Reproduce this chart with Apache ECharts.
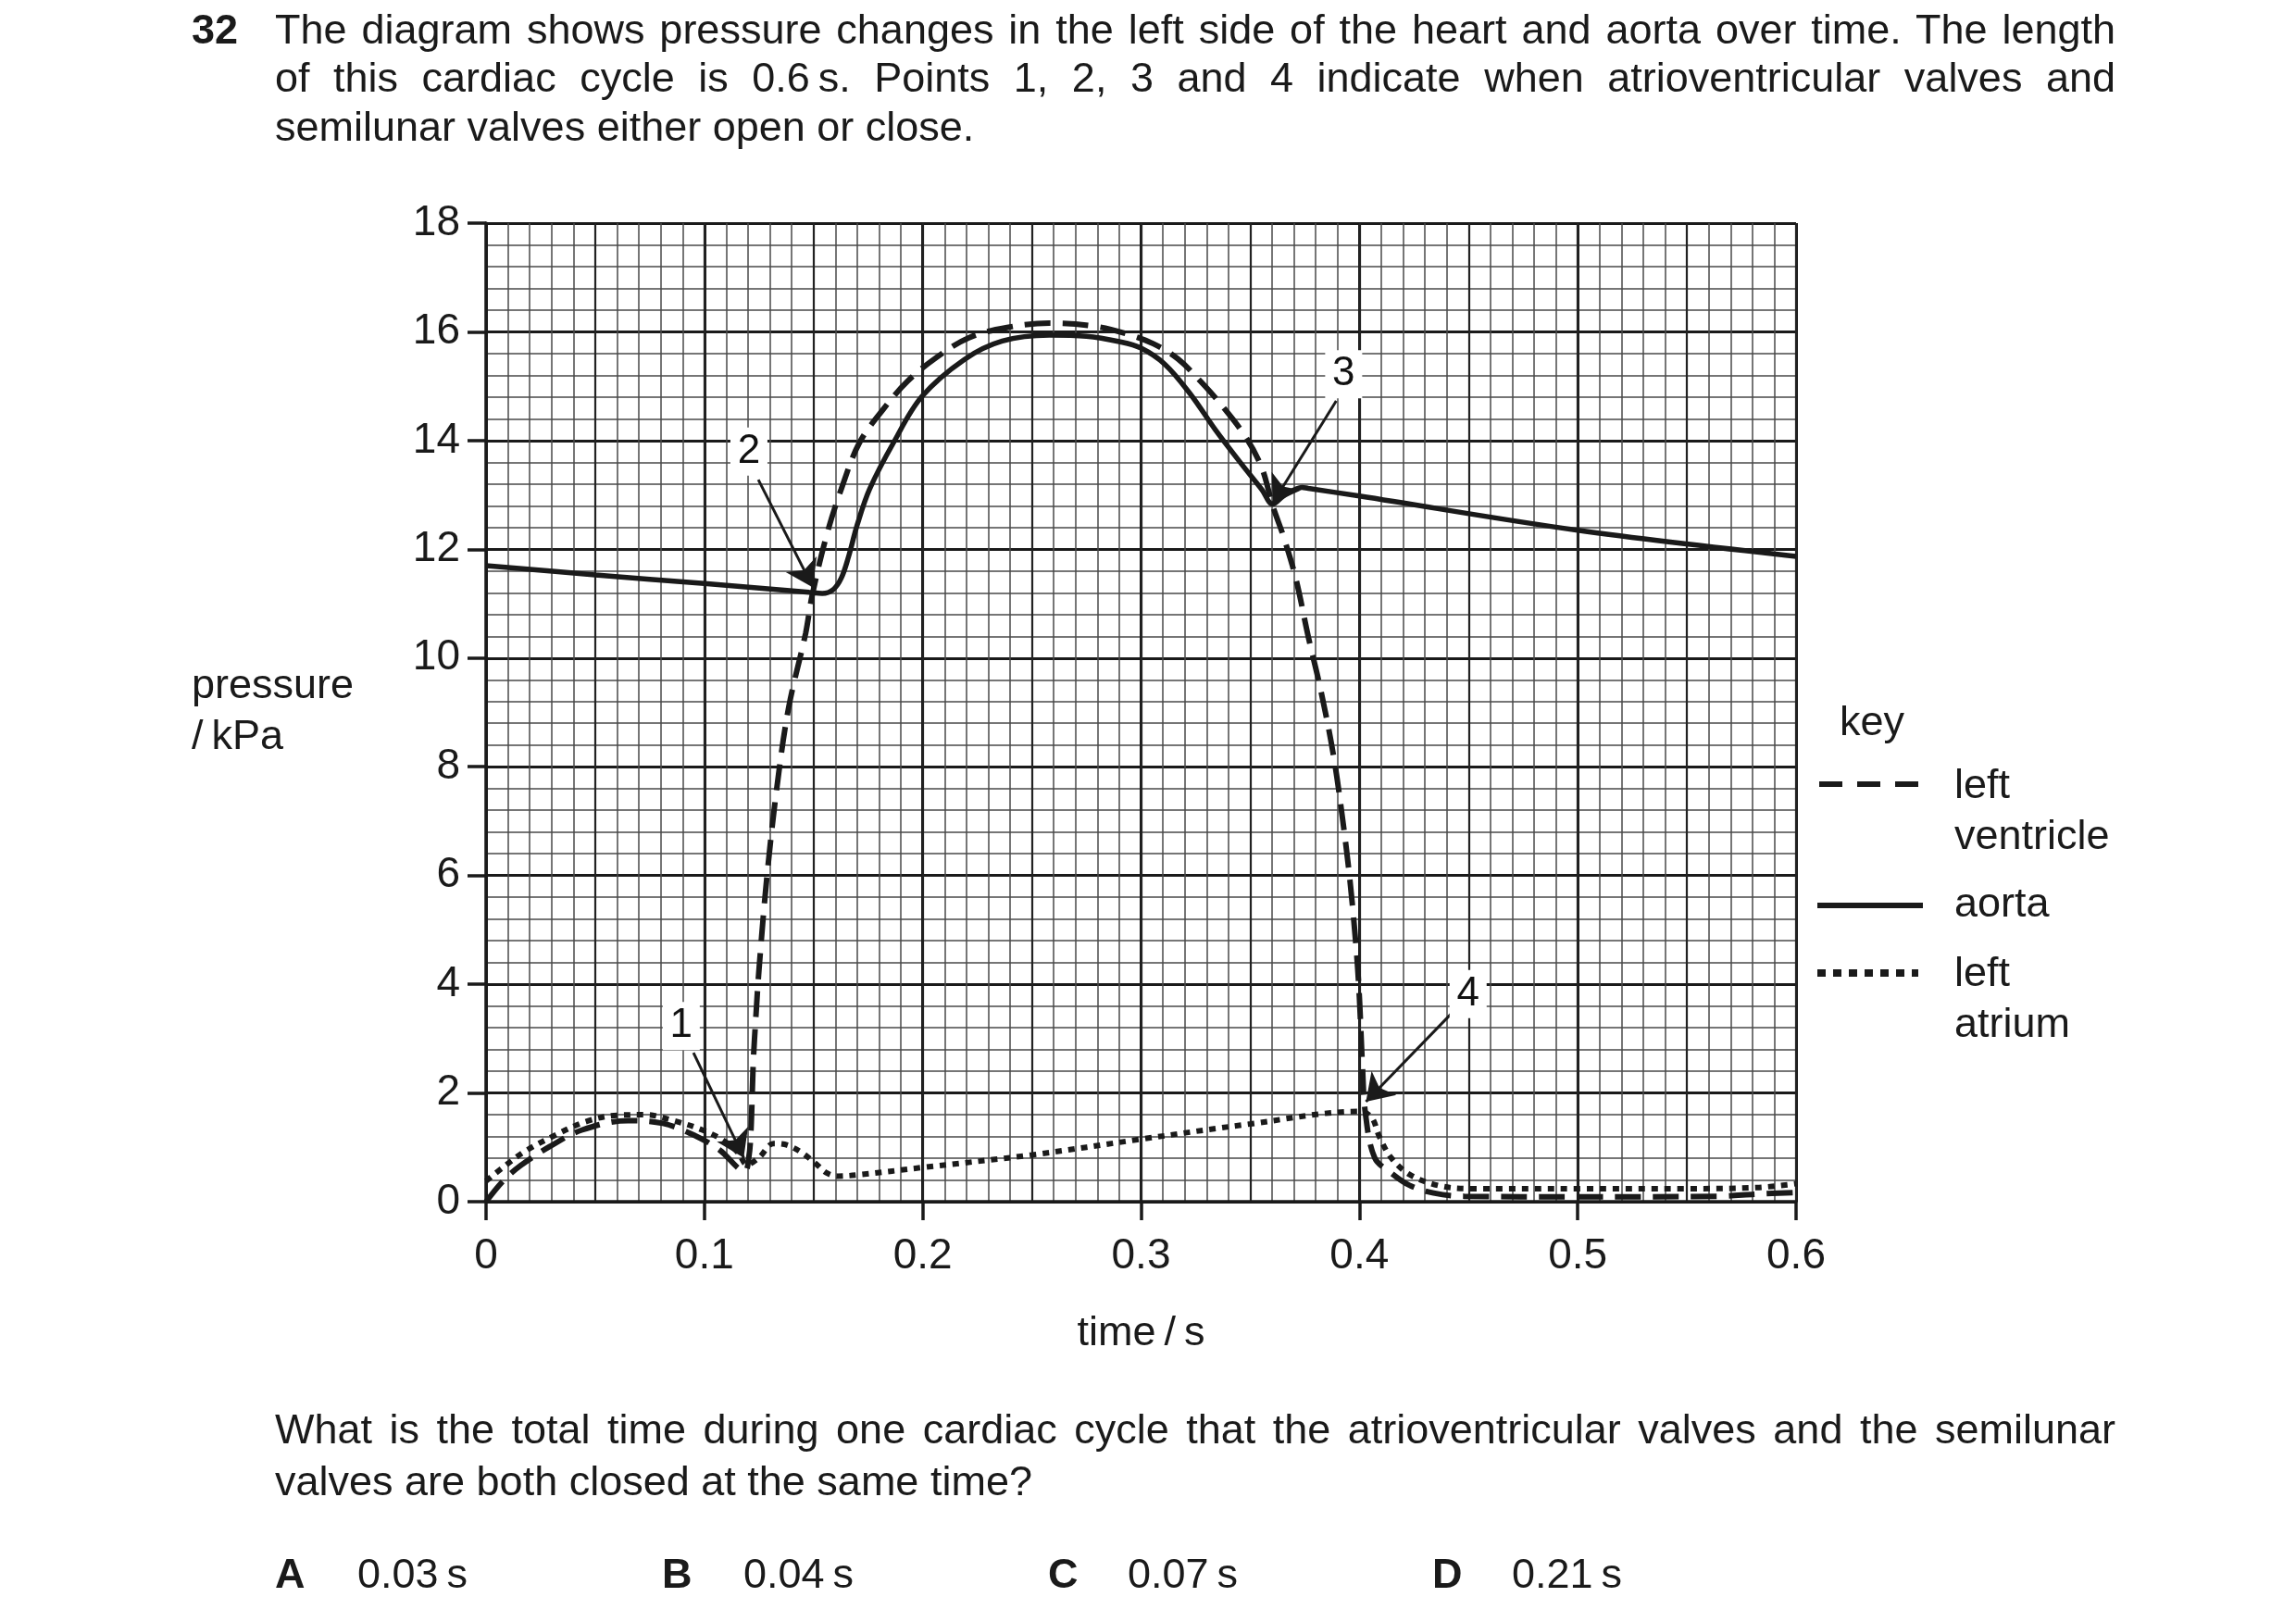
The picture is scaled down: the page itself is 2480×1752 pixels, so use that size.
<!DOCTYPE html>
<html>
<head>
<meta charset="utf-8">
<script src="https://cdn.jsdelivr.net/npm/echarts@6/dist/echarts.min.js"></script>
<style>
  html, body { margin: 0; padding: 0; background: #fff; }
  #main { position: absolute; left: 0; top: 0; width: 2480px; height: 1752px; }
  .txt { position: absolute; font-family: "Liberation Sans", Arial, sans-serif; font-size: 45px; color: #1a1a1a; line-height: 52px; white-space: nowrap; }
  .just { white-space: normal; text-align: justify; text-align-last: justify; }
  b { font-weight: bold; }
</style>
</head>
<body>
<div id="main"></div>

<div class="txt" style="left:207px;top:6px;"><b>32</b></div>
<div class="txt just" style="left:297px;top:6px;width:1988px;">The diagram shows pressure changes in the left side of the heart and aorta over time. The length</div>
<div class="txt just" style="left:297px;top:58px;width:1988px;">of this cardiac cycle is 0.6&#8201;s. Points 1, 2, 3 and 4 indicate when atrioventricular valves and</div>
<div class="txt" style="left:297px;top:111px;">semilunar valves either open or close.</div>

<div class="txt just" style="left:297px;top:1518px;width:1988px;">What is the total time during one cardiac cycle that the atrioventricular valves and the semilunar</div>
<div class="txt" style="left:297px;top:1574px;">valves are both closed at the same time?</div>

<div class="txt" style="left:297px;top:1674px;"><b>A</b></div>
<div class="txt" style="left:386px;top:1674px;">0.03&#8201;s</div>
<div class="txt" style="left:715px;top:1674px;"><b>B</b></div>
<div class="txt" style="left:803px;top:1674px;">0.04&#8201;s</div>
<div class="txt" style="left:1132px;top:1674px;"><b>C</b></div>
<div class="txt" style="left:1218px;top:1674px;">0.07&#8201;s</div>
<div class="txt" style="left:1547px;top:1674px;"><b>D</b></div>
<div class="txt" style="left:1633px;top:1674px;">0.21&#8201;s</div>

<script>
// tick labels
var xTickLabels = ['0', '0.1', '0.2', '0.3', '0.4', '0.5', '0.6'];
var yTickLabels = ['0', '2', '4', '6', '8', '10', '12', '14', '16', '18'];

// left ventricle (dashed)
var lvTime = [0, 0.008, 0.016, 0.029, 0.044, 0.065, 0.081, 0.096, 0.107, 0.1185,
  0.1203, 0.1213, 0.1224, 0.1236, 0.125, 0.1286, 0.1333,
  0.1386, 0.1464, 0.1493, 0.156, 0.1627, 0.171, 0.182, 0.193,
  0.206, 0.221, 0.2386, 0.258, 0.2777, 0.292, 0.3057, 0.317, 0.327, 0.3369,
  0.3482, 0.3553, 0.3603, 0.3652, 0.3709, 0.3766, 0.3823, 0.388, 0.3922, 0.3957,
  0.3986, 0.4, 0.4014, 0.4028, 0.407, 0.4145, 0.423, 0.434, 0.448, 0.5,
  0.565, 0.582, 0.6];
var lvPressure = [0, 0.39, 0.67, 1.01, 1.32, 1.49, 1.44, 1.21, 0.95, 0.56,
  0.8, 1.27, 2.57, 3.41, 4.26, 5.96, 7.65,
  9.09, 10.46, 11.14, 12.26, 13.11, 13.96, 14.58, 15.09,
  15.52, 15.89, 16.08, 16.16, 16.11, 15.98, 15.78, 15.5, 15.1, 14.65,
  14.05, 13.5, 12.8, 12.24, 11.46, 10.39, 9.41, 8.24, 7.07, 5.9,
  4.63, 3.76, 2.49, 1.61, 0.81, 0.53, 0.3, 0.16, 0.1, 0.09,
  0.1, 0.14, 0.17];

// aorta (solid)
var aoTime = [0, 0.05, 0.1, 0.148, 0.154, 0.159, 0.1627, 0.166, 0.17, 0.1757,
  0.1866, 0.1996, 0.219, 0.2364, 0.258, 0.275, 0.29, 0.3, 0.311, 0.3227,
  0.334, 0.3454, 0.3553, 0.3603, 0.3652, 0.3738, 0.3766, 0.4, 0.5, 0.6];
var aoPressure = [11.7, 11.53, 11.37, 11.21, 11.19, 11.26, 11.47, 11.86, 12.45, 13.11,
  13.96, 14.81, 15.49, 15.83, 15.94, 15.92, 15.82, 15.7, 15.4, 14.85,
  14.2, 13.6, 13.1, 12.83, 12.98, 13.14, 13.12, 12.98, 12.35, 11.87];

// left atrium (dotted)
var laTime = [0, 0.008, 0.018, 0.031, 0.0455, 0.06, 0.073, 0.086, 0.099, 0.109,
  0.1155, 0.1195, 0.125, 0.1317, 0.138, 0.1447, 0.151, 0.156, 0.161, 0.172,
  0.2, 0.25, 0.3, 0.35, 0.4, 0.4056, 0.409, 0.4145, 0.423, 0.436,
  0.45, 0.5, 0.55, 0.582, 0.6];
var laPressure = [0.38, 0.64, 0.93, 1.21, 1.47, 1.59, 1.6, 1.49, 1.32, 1.12,
  0.9, 0.68, 0.81, 1.07, 1.04, 0.9, 0.7, 0.53, 0.47, 0.5,
  0.63, 0.86, 1.15, 1.43, 1.66, 1.55, 1.21, 0.81, 0.5, 0.3,
  0.24, 0.24, 0.24, 0.26, 0.33];

// numbered points: label position and arrow start / tip
var pointNames = ['1', '2', '3', '4'];
var pointLabelAt = [[0.0894, 3.23], [0.1204, 13.8], [0.3928, 15.22], [0.4498, 3.82]];
var arrowFrom = [[0.095, 2.74], [0.1247, 13.28], [0.3894, 14.73], [0.4419, 3.45]];
var arrowTo = [[0.118, 0.81], [0.1497, 11.3], [0.3603, 12.85], [0.403, 1.84]];

function zip (xs, ys) {
  var out = [];
  for (let i = 0; i < xs.length; i++) out.push([xs[i], ys[i]]);
  return out;
}

var FONT = '"Liberation Sans", Arial, sans-serif';
var INK = '#1a1a1a';

var myChart = echarts.init(document.getElementById('main'));

var labelData = pointNames.map(function (n, i) {
  return [pointLabelAt[i][0], pointLabelAt[i][1], n];
});
var arrowData = arrowFrom.map(function (a, i) {
  return [{ coord: a }, { coord: arrowTo[i] }];
});

var option = {
  animation: false,
  backgroundColor: '#fff',
  grid: { left: 525, top: 241, width: 1415, height: 1057 },
  xAxis: [
    {
      type: 'value', min: 0, max: 0.6, interval: 0.1,
      name: 'time\u2009/\u2009s', nameLocation: 'middle', nameGap: 120,
      nameTextStyle: { fontSize: 45, fontFamily: FONT, color: INK },
      axisLine: { show: true, lineStyle: { color: INK, width: 3.5 } },
      axisTick: { show: true, length: 20, lineStyle: { color: INK, width: 3.5 } },
      axisLabel: {
        fontSize: 46, fontFamily: FONT, color: INK, margin: 36,
        formatter: function (v) { return xTickLabels[Math.round(v / 0.1)]; }
      },
      splitLine: { show: true, lineStyle: { color: INK, width: 3 } },
      minorTick: { show: false, splitNumber: 10 },
      minorSplitLine: { show: true, lineStyle: { color: '#4a4a4a', width: 1.5 } }
    },
    {
      type: 'value', min: 0, max: 0.6, interval: 0.05, show: true,
      axisLine: { show: false }, axisTick: { show: false }, axisLabel: { show: false },
      splitLine: { show: true, lineStyle: { color: '#222', width: 2.2 } }
    }
  ],
  yAxis: {
    type: 'value', min: 0, max: 18, interval: 2,
    name: 'pressure\n/\u2009kPa', nameLocation: 'middle', nameRotate: 0, nameGap: 318,
    nameTextStyle: { fontSize: 45, fontFamily: FONT, color: INK, align: 'left', lineHeight: 55 },
    axisLine: { show: true, lineStyle: { color: INK, width: 3.5 } },
    axisTick: { show: true, length: 20, lineStyle: { color: INK, width: 3.5 } },
    axisLabel: {
      fontSize: 46, fontFamily: FONT, color: INK, margin: 28,
      formatter: function (v) { return yTickLabels[Math.round(v / 2)]; }
    },
    splitLine: { show: true, lineStyle: { color: INK, width: 3 } },
    minorTick: { show: false, splitNumber: 5 },
    minorSplitLine: { show: true, lineStyle: { color: '#4a4a4a', width: 1.5 } }
  },
  series: [
    {
      name: 'left ventricle', type: 'line', data: zip(lvTime, lvPressure),
      symbol: 'none', smooth: 0.35, z: 4,
      lineStyle: { color: INK, width: 6, type: [28, 13] }
    },
    {
      name: 'aorta', type: 'line', data: zip(aoTime, aoPressure),
      symbol: 'none', smooth: 0.35, z: 4,
      lineStyle: { color: INK, width: 5.5 }
    },
    {
      name: 'left atrium', type: 'line', data: zip(laTime, laPressure),
      symbol: 'none', smooth: 0.35, z: 4,
      lineStyle: { color: INK, width: 6, type: [7, 7] }
    },
    {
      name: 'points', type: 'scatter', data: labelData, z: 6,
      symbol: 'rect', symbolSize: [40, 52],
      itemStyle: { color: '#fff', opacity: 1 },
      label: {
        show: true, position: 'inside', fontSize: 44, fontFamily: FONT,
        color: '#111', textBorderWidth: 0,
        formatter: function (p) { return p.value[2]; }
      },
      markLine: {
        silent: true, symbol: ['none', 'arrow'], symbolSize: 28,
        label: { show: false },
        lineStyle: { color: INK, width: 3, type: 'solid' },
        data: arrowData
      }
    }
  ],
  graphic: [
    { type: 'text', style: { text: 'key', x: 1987, y: 782, font: '45px ' + FONT, fill: INK, verticalAlign: 'middle', textVerticalAlign: 'middle' } },
    { type: 'line', shape: { x1: 1965, y1: 847, x2: 2077, y2: 847 }, style: { stroke: INK, lineWidth: 6, lineDash: [25, 16] } },
    { type: 'text', style: { text: 'left', x: 2111, y: 850, font: '45px ' + FONT, fill: INK, verticalAlign: 'middle', textVerticalAlign: 'middle' } },
    { type: 'text', style: { text: 'ventricle', x: 2111, y: 905, font: '45px ' + FONT, fill: INK, verticalAlign: 'middle', textVerticalAlign: 'middle' } },
    { type: 'line', shape: { x1: 1963, y1: 978, x2: 2077, y2: 978 }, style: { stroke: INK, lineWidth: 6 } },
    { type: 'text', style: { text: 'aorta', x: 2111, y: 978, font: '45px ' + FONT, fill: INK, verticalAlign: 'middle', textVerticalAlign: 'middle' } },
    { type: 'line', shape: { x1: 1963, y1: 1051, x2: 2072, y2: 1051 }, style: { stroke: INK, lineWidth: 8, lineDash: [9, 8] } },
    { type: 'text', style: { text: 'left', x: 2111, y: 1053, font: '45px ' + FONT, fill: INK, verticalAlign: 'middle', textVerticalAlign: 'middle' } },
    { type: 'text', style: { text: 'atrium', x: 2111, y: 1108, font: '45px ' + FONT, fill: INK, verticalAlign: 'middle', textVerticalAlign: 'middle' } }
  ]
};

myChart.setOption(option);
</script>
</body>
</html>
